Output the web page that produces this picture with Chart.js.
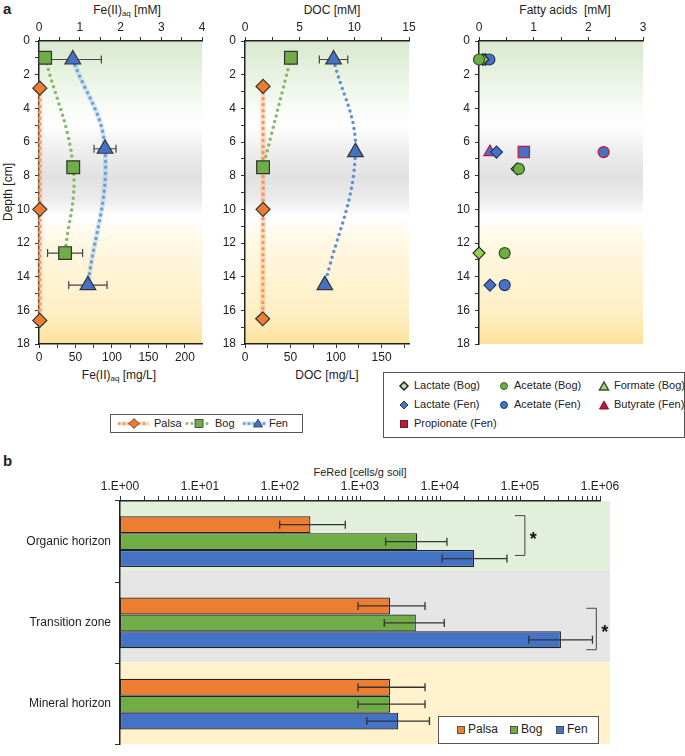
<!DOCTYPE html>
<html>
<head>
<meta charset="utf-8">
<script src="https://cdn.jsdelivr.net/npm/chart.js@4.4.1/dist/chart.umd.min.js"></script>
<style>
  body{margin:0;width:685px;height:756px;position:relative;overflow:hidden;background:#fff;
       font-family:"Liberation Sans",Arial,Helvetica,sans-serif;color:#222}
  canvas{position:absolute}
  .t{position:absolute;font-size:12px;white-space:nowrap;transform:translateX(-50%);line-height:14px}
  .t sub{font-size:8px;vertical-align:-2px;line-height:0}
  .pl{position:absolute;font-weight:bold;font-size:15px}
  .lgbox{position:absolute;border:1px solid #555;background:#fff}
  .lgbox svg{position:absolute;left:0;top:0}
  .li{position:absolute;font-size:11px;line-height:13px;white-space:nowrap}
</style>
</head>
<body>
<div class="pl" style="left:3px;top:0">a</div>
<div class="pl" style="left:3px;top:452px">b</div>

<div class="t" style="left:127px;top:3px">Fe(II)<sub>aq</sub> [mM]</div>
<div class="t" style="left:332px;top:3px">DOC [mM]</div>
<div class="t" style="left:565px;top:3px">Fatty acids&nbsp; [mM]</div>
<div class="t" style="left:119px;top:368px">Fe(II)<sub>aq</sub> [mg/L]</div>
<div class="t" style="left:327px;top:368px">DOC [mg/L]</div>
<div class="t" style="left:8px;top:185px;transform:translateX(-50%) rotate(-90deg)">Depth [cm]</div>
<div class="t" style="left:360px;top:465px;font-size:11px">FeRed [cells/g soil]</div>

<canvas id="fe" width="215" height="372" style="left:0;top:18px"></canvas>
<canvas id="doc" width="205" height="372" style="left:215px;top:18px"></canvas>
<canvas id="fatty" width="235" height="372" style="left:450px;top:18px"></canvas>
<canvas id="fered" width="685" height="296" style="left:0;top:460px"></canvas>

<!-- legend for the three profile series -->
<div class="lgbox" style="left:110px;top:414px;width:191px;height:17px">
  <svg width="191" height="17">
    <line x1="8" y1="8.5" x2="38" y2="8.5" stroke="#fbd9c0" stroke-width="4"/>
    <line x1="8" y1="8.5" x2="38" y2="8.5" stroke="#f19a5a" stroke-width="3" stroke-dasharray="0 5" stroke-linecap="round"/>
    <path d="M23 3.5 L28 8.5 L23 13.5 L18 8.5Z" fill="#ed7d31" stroke="#333" stroke-width="0.8"/>
    <line x1="76" y1="8.5" x2="98" y2="8.5" stroke="#86b865" stroke-width="3" stroke-dasharray="0 5" stroke-linecap="round"/>
    <rect x="84" y="4.5" width="8" height="8" fill="#70ad47" stroke="#333" stroke-width="0.8"/>
    <line x1="133" y1="8.5" x2="155" y2="8.5" stroke="#cfe0f5" stroke-width="4"/>
    <line x1="133" y1="8.5" x2="155" y2="8.5" stroke="#6f9ed6" stroke-width="3" stroke-dasharray="0 5" stroke-linecap="round"/>
    <path d="M147 4 L151.5 12 L142.5 12Z" fill="#4472c4" stroke="#333" stroke-width="0.8"/>
  </svg>
  <span class="li" style="left:43px;top:2px">Palsa</span>
  <span class="li" style="left:104px;top:2px">Bog</span>
  <span class="li" style="left:158px;top:2px">Fen</span>
</div>

<!-- legend for fatty acids -->
<div class="lgbox" style="left:383px;top:372px;width:300px;height:64px">
  <svg width="300" height="64">
    <path d="M20 9 L24 13 L20 17 L16 13Z" fill="#c6e0b4" stroke="#222" stroke-width="1.5"/>
    <circle cx="120" cy="13" r="3.5" fill="#70ad47" stroke="#3a5f25" stroke-width="1"/>
    <path d="M220 9 L224.5 17 L215.5 17Z" fill="#a9d18e" stroke="#375623" stroke-width="1.5"/>
    <path d="M20 28 L24 32 L20 36 L16 32Z" fill="#4472c4" stroke="#1f3864" stroke-width="1"/>
    <circle cx="120" cy="32" r="3.5" fill="#4472c4" stroke="#1f3864" stroke-width="1"/>
    <path d="M220 28 L224.5 36 L215.5 36Z" fill="#c0143c" stroke="#8b0f2b" stroke-width="1"/>
    <rect x="16.5" y="47.5" width="7" height="7" fill="#b3203c" stroke="#7d1228" stroke-width="1"/>
  </svg>
  <span class="li" style="left:30px;top:6px">Lactate (Bog)</span>
  <span class="li" style="left:130px;top:6px">Acetate (Bog)</span>
  <span class="li" style="left:230px;top:6px">Formate (Bog)</span>
  <span class="li" style="left:30px;top:25px">Lactate (Fen)</span>
  <span class="li" style="left:130px;top:25px">Acetate (Fen)</span>
  <span class="li" style="left:230px;top:25px">Butyrate (Fen)</span>
  <span class="li" style="left:30px;top:44px">Propionate (Fen)</span>
</div>

<!-- legend for panel b -->
<div class="lgbox" style="left:438px;top:716px;width:159px;height:26px">
  <svg width="159" height="26">
    <rect x="18.5" y="9.5" width="7" height="7" fill="#ed7d31" stroke="#333" stroke-width="0.8"/>
    <rect x="71.5" y="9.5" width="7" height="7" fill="#70ad47" stroke="#333" stroke-width="0.8"/>
    <rect x="117.5" y="9.5" width="7" height="7" fill="#4472c4" stroke="#333" stroke-width="0.8"/>
  </svg>
  <span class="li" style="left:29px;top:6px;font-size:12px">Palsa</span>
  <span class="li" style="left:82px;top:6px;font-size:12px">Bog</span>
  <span class="li" style="left:128px;top:6px;font-size:12px">Fen</span>
</div>

<script>
// ---- panel a: porewater profiles (x in mM, y = depth in cm) ----
const depthTicks = [0,1,2,3,4,5,6,7,8,9,10,11,12,13,14,15,16,17,18];
const depthLabels = [0,2,4,6,8,10,12,14,16,18];

// Fe(II)aq
const fePalsaDepth = [2.8, 10, 16.6];
const fePalsa      = [0.02, 0.02, 0.02];
const feBogDepth   = [1.0, 7.5, 12.6];
const feBog        = [0.15, 0.84, 0.64];
const feBogErr     = [0, 0, 0.43];
const feFenDepth   = [1.1, 6.4, 14.5];
const feFen        = [0.83, 1.62, 1.20];
const feFenErr     = [0.70, 0.27, 0.47];
const feTopTicks   = [0,0.5,1,1.5,2,2.5,3,3.5,4];
const feTopLabels  = [0,1,2,3,4];
const feMgTicks    = [0,25,50,75,100,125,150,175,200];
const feMgLabels   = [0,50,100,150,200];

// DOC
const docPalsaDepth = [2.7, 10, 16.5];
const docPalsa      = [1.65, 1.65, 1.62];
const docBogDepth   = [1.0, 7.5];
const docBog        = [4.2, 1.65];
const docFenDepth   = [1.1, 6.6, 14.5];
const docFen        = [8.1, 10.1, 7.3];
const docFenErr     = [1.3, 0, 0];
const docTopTicks   = [0,2.5,5,7.5,10,12.5,15];
const docTopLabels  = [0,5,10,15];
const docMgTicks    = [0,25,50,75,100,125,150,175];
const docMgLabels   = [0,50,100,150];

// fatty acids
const lactBogDepth = [1.1, 7.6, 12.6];  const lactBog = [0.07, 0.70, 0.0];
const acetBogDepth = [1.1, 7.6, 12.6];  const acetBog = [0.0, 0.73, 0.47];
const formBogDepth = [];                const formBog = [];
const lactFenDepth = [1.1, 6.6, 14.5];  const lactFen = [0.12, 0.32, 0.2];
const acetFenDepth = [1.1, 6.6, 14.5];  const acetFen = [0.19, 2.28, 0.47];
const butyFenDepth = [6.6];             const butyFen = [0.2];
const propFenDepth = [6.6];             const propFen = [0.82];
const fattyTicks   = [0,0.5,1,1.5,2,2.5,3];
const fattyLabels  = [0,1,2,3];

// ---- panel b: FeRed abundance ----
const horizons     = ['Organic horizon', 'Transition zone', 'Mineral horizon'];
const feRedPalsa   = [240, 2370, 2370];
const feRedPalsaLo = [99, 944, 944];
const feRedPalsaHi = [655, 6500, 6500];
const feRedBog     = [5180, 4990, 2370];
const feRedBogLo   = [2090, 2010, 944];
const feRedBogHi   = [12200, 11300, 6500];
const feRedFen     = [26700, 325000, 3010];
const feRedFenLo   = [10650, 129000, 1215];
const feRedFenHi   = [68700, 805000, 7380];
const feRedTickLabels = ['1.E+00','1.E+01','1.E+02','1.E+03','1.E+04','1.E+05','1.E+06'];

Chart.defaults.font.family = '"Liberation Sans", Arial, Helvetica, sans-serif';
Chart.defaults.font.size = 12;
Chart.defaults.color = '#222';

const pts = (xs, ds) => xs.map((x, i) => ({ x, y: ds[i] }));

// soil-layer shading behind the profiles
const depthBg = {
  id: 'depthBg',
  beforeDraw(chart){
    const { ctx, chartArea: a } = chart;
    const g = ctx.createLinearGradient(0, a.top, 0, a.bottom);
    g.addColorStop(0.00, '#d8e9cd');
    g.addColorStop(0.10, '#e6f1df');
    g.addColorStop(0.22, '#f8fbf6');
    g.addColorStop(0.28, '#ffffff');
    g.addColorStop(0.36, '#eeeeee');
    g.addColorStop(0.45, '#e1e1e1');
    g.addColorStop(0.52, '#ebebeb');
    g.addColorStop(0.58, '#ffffff');
    g.addColorStop(0.66, '#fff8e4');
    g.addColorStop(0.90, '#feefc4');
    g.addColorStop(1.00, '#fce199');
    ctx.save();
    ctx.fillStyle = g;
    ctx.fillRect(a.left, a.top, a.right - a.left, a.bottom - a.top);
    ctx.restore();
  }
};

const errorBars = {
  id: 'errorBars',
  beforeDatasetsDraw(chart){
    const { ctx } = chart;
    ctx.save();
    ctx.strokeStyle = '#444';
    ctx.lineWidth = 1.2;
    chart.data.datasets.forEach((ds, i) => {
      if (!ds.errX) return;
      const meta = chart.getDatasetMeta(i);
      const xs = chart.scales[meta.xAxisID], ys = chart.scales[meta.yAxisID];
      ds.data.forEach((p, j) => {
        const e = ds.errX[j];
        if (!e) return;
        const y = ys.getPixelForValue(p.y);
        const x1 = xs.getPixelForValue(p.x - e), x2 = xs.getPixelForValue(p.x + e);
        ctx.beginPath();
        ctx.moveTo(x1, y); ctx.lineTo(x2, y);
        ctx.moveTo(x1, y - 4); ctx.lineTo(x1, y + 4);
        ctx.moveTo(x2, y - 4); ctx.lineTo(x2, y + 4);
        ctx.stroke();
      });
    });
    ctx.restore();
  }
};

function linAxis(pos, a){
  return {
    type: 'linear', position: pos, axis: 'x', min: 0, max: a.max,
    afterFit: s => { s.height = a.size; },
    afterBuildTicks: s => { s.ticks = a.ticks.map(v => ({ value: v })); },
    ticks: { autoSkip: false, maxRotation: 0, padding: 2, color: '#222',
             callback: v => a.labels.includes(v) ? String(v) : '' },
    grid: { drawOnChartArea: false, tickLength: 4, color: '#333' },
    border: { color: '#222', width: 1.5 }
  };
}

function depthAxis(width){
  return {
    type: 'linear', reverse: true, min: 0, max: 18,
    afterFit: s => { s.width = width; },
    afterBuildTicks: s => { s.ticks = depthTicks.map(v => ({ value: v })); },
    ticks: { autoSkip: false, padding: 5, color: '#222',
             callback: v => depthLabels.includes(v) ? String(v) : '' },
    grid: { drawOnChartArea: false, tickLength: 4, color: '#333' },
    border: { color: '#222', width: 1.5 }
  };
}

// dotted trend line, with an optional pale halo underneath
function trend(data, color, halo){
  const line = { data, showLine: true, tension: 0.4, clip: false,
                 borderColor: color, borderWidth: 3.5, borderDash: [0, 6], borderCapStyle: 'round',
                 pointRadius: 0 };
  if (!halo) return [line];
  return [line, { data, showLine: true, tension: 0.4, clip: false,
                  borderColor: halo, borderWidth: 5, pointRadius: 0 }];
}
function marks(data, style, r, fill, edge, err){
  return { data, showLine: false, clip: false, pointStyle: style, pointRadius: r,
           pointBackgroundColor: fill, pointBorderColor: edge, pointBorderWidth: 1.2,
           pointHoverRadius: r, errX: err };
}

function profile(id, datasets, top, bottom, yWidth, padRight){
  const scales = { x: linAxis('top', top), y: depthAxis(yWidth) };
  if (bottom) scales.x2 = linAxis('bottom', bottom);
  return new Chart(document.getElementById(id), {
    type: 'scatter',
    data: { datasets },
    options: {
      responsive: false, animation: false,
      layout: { padding: { left: 0, top: 0, right: padRight, bottom: bottom ? 0 : 46 } },
      scales,
      plugins: { legend: { display: false }, tooltip: { enabled: false } }
    },
    plugins: [depthBg, errorBars]
  });
}

const ORANGE = '#ed7d31', GREEN = '#70ad47', BLUE = '#4472c4', RED = '#c0143c', EDGE = '#333';

profile('fe', [
  marks(pts(fePalsa, fePalsaDepth), 'rectRot', 7, ORANGE, EDGE),
  marks(pts(feBog, feBogDepth), 'rect', 9, GREEN, EDGE, feBogErr),
  marks(pts(feFen, feFenDepth), 'triangle', 9, BLUE, EDGE, feFenErr),
  ...trend(pts(fePalsa, fePalsaDepth), '#f29a5c', 'rgba(245,170,120,0.35)'),
  ...trend(pts(feBog, feBogDepth), '#86b865'),
  ...trend(pts(feFen, feFenDepth), '#6f9ed6', 'rgba(140,185,235,0.3)')
], { max: 4, size: 23, ticks: feTopTicks, labels: feTopLabels },
   { max: 223.4, size: 46, ticks: feMgTicks, labels: feMgLabels }, 39, 13);

profile('doc', [
  marks(pts(docPalsa, docPalsaDepth), 'rectRot', 7, ORANGE, EDGE),
  marks(pts(docBog, docBogDepth), 'rect', 9, GREEN, EDGE),
  marks(pts(docFen, docFenDepth), 'triangle', 9, BLUE, EDGE, docFenErr),
  ...trend(pts(docPalsa, docPalsaDepth), '#f29a5c', 'rgba(245,170,120,0.35)'),
  ...trend(pts(docBog, docBogDepth), '#86b865'),
  ...trend(pts(docFen, docFenDepth), '#5f8fd0')
], { max: 15, size: 23, ticks: docTopTicks, labels: docTopLabels },
   { max: 180.15, size: 46, ticks: docMgTicks, labels: docMgLabels }, 30, 11);

const fenEdge = c => (c.raw && c.raw.y === 6.6) ? RED : '#1f3864';
profile('fatty', [
  marks(pts(acetBog, acetBogDepth), 'circle', 5.5, GREEN, '#2f4f1c'),
  marks(pts(lactBog, lactBogDepth), 'rectRot', 6, '#92d050', '#222'),
  marks(pts(formBog, formBogDepth), 'triangle', 6, '#a9d18e', '#375623'),
  marks(pts(acetFen, acetFenDepth), 'circle', 5.5, BLUE, fenEdge),
  marks(pts(lactFen, lactFenDepth), 'rectRot', 6, BLUE, '#1f3864'),
  marks(pts(butyFen, butyFenDepth), 'triangle', 7, BLUE, RED),
  marks(pts(propFen, propFenDepth), 'rect', 8, BLUE, RED)
], { max: 3, size: 23, ticks: fattyTicks, labels: fattyLabels }, null, 29, 42);

// ---- panel b ----
const logTicks = [];
feRedTickLabels.forEach((_, n) => {
  const base = Math.pow(10, n);
  if (n === feRedTickLabels.length - 1) { logTicks.push(base); return; }
  for (let m = 1; m <= 9; m++) logTicks.push(m * base);
});

const horizonBands = {
  id: 'horizonBands',
  beforeDraw(chart){
    const { ctx, chartArea: a, scales: { y } } = chart;
    const c0 = y.getPixelForValue(0), step = y.getPixelForValue(1) - c0;
    const edges = [-0.5, 0.36, 1.48, 2.49].map(v => c0 + v * step);
    const cols = ['#e2efda', '#e5e5e5', '#fff2cc'];
    ctx.save();
    cols.forEach((c, i) => {
      ctx.fillStyle = c;
      ctx.fillRect(a.left, edges[i], a.right - a.left + 10, edges[i + 1] - edges[i]);
    });
    ctx.restore();
  }
};

const barErrors = {
  id: 'barErrors',
  afterDatasetsDraw(chart){
    const { ctx, scales: { x } } = chart;
    ctx.save();
    ctx.strokeStyle = '#333';
    ctx.lineWidth = 1.3;
    chart.data.datasets.forEach((ds, i) => {
      chart.getDatasetMeta(i).data.forEach((bar, j) => {
        const x1 = x.getPixelForValue(ds.errLo[j]), x2 = x.getPixelForValue(ds.errHi[j]);
        const y = bar.y;
        ctx.beginPath();
        ctx.moveTo(x1, y); ctx.lineTo(x2, y);
        ctx.moveTo(x1, y - 4); ctx.lineTo(x1, y + 4);
        ctx.moveTo(x2, y - 4); ctx.lineTo(x2, y + 4);
        ctx.stroke();
      });
    });
    ctx.restore();
  }
};

// significance brackets (category index, x value, span in category units)
const sigBrackets = {
  id: 'sigBrackets',
  afterDraw(chart){
    const { ctx, scales: { x, y } } = chart;
    const c0 = y.getPixelForValue(0), step = y.getPixelForValue(1) - c0;
    ctx.save();
    ctx.strokeStyle = '#444';
    ctx.lineWidth = 1;
    ctx.fillStyle = '#111';
    ctx.font = 'bold 18px "Liberation Sans", Arial, sans-serif';
    ctx.textAlign = 'left';
    ctx.textBaseline = 'middle';
    [{ cat: 0, v: 1.15e5, from: -0.32, to: 0.17 }, { cat: 1, v: 9e5, from: -0.18, to: 0.33 }].forEach(b => {
      const bx = x.getPixelForValue(b.v);
      const y1 = c0 + (b.cat + b.from) * step, y2 = c0 + (b.cat + b.to) * step;
      ctx.beginPath();
      ctx.moveTo(bx - 10, y1); ctx.lineTo(bx, y1); ctx.lineTo(bx, y2); ctx.lineTo(bx - 10, y2);
      ctx.stroke();
      ctx.fillText('*', bx + 5, (y1 + y2) / 2 + 4);
    });
    ctx.restore();
  }
};

new Chart(document.getElementById('fered'), {
  type: 'bar',
  data: {
    labels: horizons,
    datasets: [
      { label: 'Palsa', data: feRedPalsa, errLo: feRedPalsaLo, errHi: feRedPalsaHi, backgroundColor: ORANGE },
      { label: 'Bog',   data: feRedBog,   errLo: feRedBogLo,   errHi: feRedBogHi,   backgroundColor: GREEN },
      { label: 'Fen',   data: feRedFen,   errLo: feRedFenLo,   errHi: feRedFenHi,   backgroundColor: BLUE }
    ]
  },
  options: {
    indexAxis: 'y', responsive: false, animation: false,
    layout: { padding: { left: 0, top: 0, right: 85, bottom: 3 } },
    datasets: { bar: { categoryPercentage: 0.625, barPercentage: 1, borderColor: '#222', borderWidth: 1.2, borderSkipped: false } },
    scales: {
      x: {
        type: 'logarithmic', position: 'top', min: 1, max: 1e6,
        afterFit: s => { s.height = 41; },
        afterBuildTicks: s => { s.ticks = logTicks.map(v => ({ value: v })); },
        ticks: { autoSkip: false, maxRotation: 0, padding: 2, color: '#222',
                 callback: v => { const e = Math.log10(v); return Math.abs(e - Math.round(e)) < 1e-9 ? feRedTickLabels[Math.round(e)] : ''; } },
        grid: { drawOnChartArea: false, tickLength: 5, color: '#333' },
        border: { color: '#222', width: 1.5 }
      },
      y: {
        afterFit: s => { s.width = 120; },
        ticks: { padding: 4, color: '#222' },
        grid: { drawOnChartArea: false, tickLength: 5, color: '#333', offset: true },
        border: { color: '#222', width: 1.5 }
      }
    },
    plugins: { legend: { display: false }, tooltip: { enabled: false } }
  },
  plugins: [horizonBands, barErrors, sigBrackets]
});
</script>
</body>
</html>
